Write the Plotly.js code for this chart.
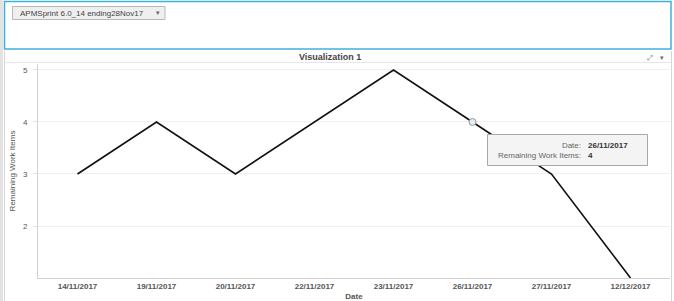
<!DOCTYPE html>
<html><head><meta charset="utf-8">
<script src="https://cdn.plot.ly/plotly-3.0.1.min.js"></script>
<style>html,body{margin:0;padding:0;background:#fff;}#chart{width:674px;height:301px;}</style>
</head><body><div id="chart"></div>
<script>
const dates = ["14/11/2017","19/11/2017","20/11/2017","22/11/2017","23/11/2017","26/11/2017","27/11/2017","12/12/2017"];
const remaining = [3,4,3,4,5,4,3,1];
const yTicks = [2,3,4,5];
const hoverIndex = 5;
const sprintLabel = "APMSprint 6.0_14 ending28Nov17";
const panelTitle = "Visualization 1";

const W=674,H=301,L=38,R=4,T=64,B=23;
const pw=W-L-R, ph=H-T-B;
const px = x => (x-L)/pw;
const py = y => (H-B-y)/ph;
const font = {family:"Liberation Sans, Arial, sans-serif", size:8, color:"#555"};

const traces = [
  {x:dates, y:remaining, type:"scatter", mode:"lines", line:{color:"#111", width:1.6}, hoverinfo:"skip", cliponaxis:false},
  {x:[dates[hoverIndex]], y:[remaining[hoverIndex]], type:"scatter", mode:"markers",
   marker:{size:7, color:"#e8ecef", line:{color:"#8a9aa8", width:1}}, hoverinfo:"skip"}
];

const shapes = [
  {type:"rect", xref:"paper", yref:"paper", x0:px(0), x1:px(3), y0:py(301), y1:py(0), fillcolor:"#e3e3e3", line:{width:0}, layer:"below"},
  {type:"rect", xref:"paper", yref:"paper", x0:px(4.5), x1:px(671), y0:py(49), y1:py(1.5), fillcolor:"#fff", line:{color:"#3fb1d9", width:1.5}},
  {type:"rect", xref:"paper", yref:"paper", x0:px(12.5), x1:px(165), y0:py(19.5), y1:py(6.5), fillcolor:"#efefef", line:{color:"#b8b8b8", width:1}},
  {type:"line", xref:"paper", yref:"paper", x0:px(4.5), x1:px(4.5), y0:py(301), y1:py(51), line:{color:"#d6d6d6", width:1}},
  {type:"line", xref:"paper", yref:"paper", x0:px(671.5), x1:px(671.5), y0:py(301), y1:py(51), line:{color:"#d6d6d6", width:1}},
  {type:"line", xref:"paper", yref:"paper", x0:px(4.5), x1:px(671.5), y0:py(62.5), y1:py(62.5), line:{color:"#e6e6e6", width:1}},
  {type:"rect", xref:"paper", yref:"paper", x0:px(487.5), x1:px(647.5), y0:py(165.5), y1:py(134.5), fillcolor:"#f4f4f4", line:{color:"#a8a8a8", width:1}}
];

const annotations = [
  {xref:"paper", yref:"paper", x:px(18), y:py(13), xanchor:"left", yanchor:"middle", showarrow:false, text:sprintLabel, font:{family:font.family, size:8, color:"#444"}},
  {xref:"paper", yref:"paper", x:px(158), y:py(13), xanchor:"center", yanchor:"middle", showarrow:false, text:"▾", font:{family:"DejaVu Sans", size:7, color:"#666"}},
  {xref:"paper", yref:"paper", x:px(330), y:py(57), xanchor:"center", yanchor:"middle", showarrow:false, text:"<b>"+panelTitle+"</b>", font:{family:font.family, size:9, color:"#444"}},
  {xref:"paper", yref:"paper", x:px(650), y:py(58), xanchor:"center", yanchor:"middle", showarrow:false, text:"⤢", font:{family:"DejaVu Sans", size:7, color:"#666"}},
  {xref:"paper", yref:"paper", x:px(662), y:py(58), xanchor:"center", yanchor:"middle", showarrow:false, text:"▾", font:{family:"DejaVu Sans", size:7, color:"#666"}},
  {xref:"paper", yref:"paper", x:px(583), y:py(150), xanchor:"right", yanchor:"middle", align:"right", showarrow:false,
   text:"Date:<br>Remaining Work Items:", font:{family:font.family, size:8, color:"#666"}},
  {xref:"paper", yref:"paper", x:px(586), y:py(150), xanchor:"left", yanchor:"middle", align:"left", showarrow:false,
   text:"<b>"+dates[hoverIndex]+"</b><br><b>"+remaining[hoverIndex]+"</b>", font:{family:font.family, size:8, color:"#333"}}
];

const layout = {
  width:W, height:H, margin:{l:L, r:R, t:T, b:B, pad:0},
  paper_bgcolor:"#fff", plot_bgcolor:"#fff", showlegend:false, font:font,
  xaxis:{type:"category", range:[-0.5, dates.length-0.5], showgrid:false, showline:true, linecolor:"#d0d0d0", linewidth:1,
    ticks:"", tickfont:{family:font.family, size:8, color:"#555", weight:"bold"}, fixedrange:true,
    title:{text:"<b>Date</b>", font:{family:font.family, size:8, color:"#555"}, standoff:4}},
  yaxis:{range:[1, 5.115], tickvals:yTicks, showgrid:true, gridcolor:"#f0f0f0", showline:true, linecolor:"#d0d0d0", linewidth:1,
    zeroline:false, ticks:"outside", ticklen:4, tickcolor:"#e0e0e0", ticklabelstandoff:4, tickfont:{family:font.family, size:8, color:"#555"}, fixedrange:true,
    title:{text:"Remaining Work Items", font:{family:font.family, size:8, color:"#555"}, standoff:6}},
  shapes:shapes, annotations:annotations
};
Plotly.newPlot("chart", traces, layout, {displayModeBar:false, staticPlot:true});
</script></body></html>
